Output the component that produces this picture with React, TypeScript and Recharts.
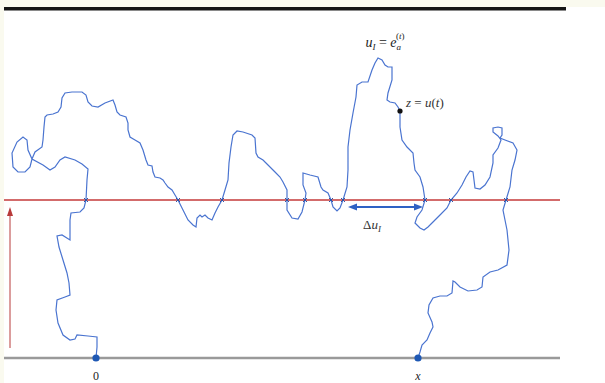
import React from "react";
import {
  ComposedChart,
  Scatter,
  XAxis,
  YAxis,
  ReferenceLine,
} from "recharts";

// path of the walk, from 0 to x (units: horizontal offset from 0, height above the base line)
const walkX = [
  0, 1, 1, -8, -19, -21, -26, -33, -38, -40, -39, -31, -26, -27, -29, -33, -37, -39, -34, -26,
  -26, -25, -16, -12, -10, -9, -8, -14, -21, -31, -36, -41, -46, -53, -64, -68, -69, -73, -79, -84,
  -83, -78, -71, -66, -64, -61, -54, -53, -52, -51, -49, -43, -38, -35, -34, -31, -24, -14, -10, -8,
  -4, 2, 9, 17, 19, 21, 24, 30, 32, 32, 34, 39, 44, 47, 50, 52, 56, 57, 59, 64,
  67, 69, 72, 76, 79, 82, 87, 92, 97, 100, 101, 104, 106, 109, 112, 116, 119, 122, 126, 129,
  132, 133, 135, 137, 141, 147, 156, 159, 160, 162, 167, 172, 179, 184, 187, 191, 191, 191, 196, 202,
  206, 209, 210, 207, 207, 214, 222, 225, 227, 232, 235, 237, 241, 244, 247, 251, 252, 252, 254, 257,
  260, 261, 266, 272, 276, 279, 282, 286, 289, 292, 296, 296, 292, 291, 294, 299, 302, 304, 304, 306,
  311, 317, 318, 319, 324, 327, 329, 326, 321, 319, 324, 328, 332, 337, 344, 351, 355, 361, 366, 370,
  374, 377, 378, 379, 384, 389, 394, 397, 397, 402, 405, 402, 397, 397, 402, 406, 406, 404, 409, 417,
  421, 419, 416, 414, 410, 407, 411, 413, 411, 402, 394, 387, 386, 381, 372, 364, 359, 357, 356, 351,
  344, 337, 333, 332, 336, 337, 334, 331, 326, 324, 322,
];
const walkY = [
  0, 11, 21, 22, 23, 19, 18, 23, 35, 48, 58, 61, 63, 75, 85, 98, 111, 122, 123, 118,
  138, 145, 146, 150, 158, 178, 189, 194, 198, 201, 198, 191, 188, 193, 199, 208, 218, 221, 216, 205,
  191, 186, 186, 191, 199, 206, 211, 218, 231, 241, 243, 244, 246, 251, 260, 265, 266, 266, 263, 256,
  252, 251, 255, 258, 253, 246, 243, 241, 235, 228, 221, 218, 215, 208, 198, 193, 192, 186, 181, 180,
  178, 175, 171, 168, 163, 158, 148, 138, 133, 131, 140, 143, 141, 143, 140, 138, 145, 151, 158, 168,
  178, 195, 211, 223, 227, 226, 223, 220, 205, 201, 198, 193, 186, 181, 176, 168, 158, 148, 140, 139,
  146, 158, 165, 173, 185, 183, 181, 171, 168, 165, 158, 151, 147, 150, 158, 171, 188, 211, 228, 245,
  261, 273, 276, 276, 288, 295, 300, 298, 293, 291, 291, 278, 265, 258, 256, 255, 251, 247, 231, 218,
  211, 205, 195, 188, 181, 171, 158, 148, 141, 135, 130, 128, 131, 136, 143, 150, 158, 165, 173, 181,
  187, 186, 178, 170, 169, 173, 181, 195, 203, 210, 218, 222, 226, 230, 231, 230, 223, 220, 218, 215,
  208, 198, 188, 171, 158, 148, 128, 108, 93, 88, 86, 81, 71, 68, 67, 71, 76, 77, 65, 62,
  62, 60, 53, 45, 36, 31, 25, 18, 13, 6, 0,
];

// where the walk crosses the level line
const crossX = [-10, 82, 126, 191, 209, 235, 247, 329, 355, 410];
const level = 158;

const endX = [0, 322];
const tipX = 304;
const tipY = 247;

const lineStart = -92;
const lineEnd = 464;

const walkData = walkX.map((x, i) => ({ x, y: walkY[i] }));
const crossData = crossX.map((x) => ({ x, y: level }));
const endData = endX.map((x) => ({ x, y: 0 }));

const labels = [
  { x: 289, y: 311, key: "uI" },
  { x: 310, y: 251, key: "z" },
  { x: 276, y: 129, key: "du" },
  { x: 0, y: -22, key: "zero" },
  { x: 322, y: -22, key: "xx" },
];

const serif = '"Liberation Serif", "DejaVu Serif", serif';

const NoMark = () => <g />;

const CrossMark = (p: any) => {
  const { cx, cy } = p;
  const s = 2;
  return (
    <g stroke="#2c55a8" strokeWidth={1}>
      <line x1={cx - s} y1={cy - s} x2={cx + s} y2={cy + s} />
      <line x1={cx - s} y1={cy + s} x2={cx + s} y2={cy - s} />
    </g>
  );
};

const EndDot = (p: any) => <circle cx={p.cx} cy={p.cy} r={3.6} fill="#1e58b4" />;
const TipDot = (p: any) => <circle cx={p.cx} cy={p.cy} r={2.6} fill="#111" />;

const LabelMark = (p: any) => {
  const { cx, cy, payload } = p;
  const st = { fontFamily: serif };
  if (payload.key === "uI") {
    return (
      <text x={cx} y={cy} textAnchor="middle" style={st} fontSize={14} fill="#222">
        <tspan fontStyle="italic">u</tspan>
        <tspan fontStyle="italic" fontSize={9} dy={3}>I</tspan>
        <tspan dy={-3}> = </tspan>
        <tspan fontStyle="italic">e</tspan>
        <tspan fontStyle="italic" fontSize={9} dy={3}>a</tspan>
        <tspan fontSize={9} dx={-5} dy={-11}>(</tspan>
        <tspan fontSize={9} fontStyle="italic">t</tspan>
        <tspan fontSize={9}>)</tspan>
      </text>
    );
  }
  if (payload.key === "z") {
    return (
      <text x={cx} y={cy} textAnchor="start" style={st} fontSize={13} fill="#333">
        <tspan fontStyle="italic">z</tspan>
        <tspan> = </tspan>
        <tspan fontStyle="italic">u</tspan>
        <tspan>(</tspan>
        <tspan fontStyle="italic">t</tspan>
        <tspan>)</tspan>
      </text>
    );
  }
  if (payload.key === "du") {
    return (
      <text x={cx} y={cy} textAnchor="middle" style={st} fontSize={13} fill="#333">
        <tspan>Δ</tspan>
        <tspan fontStyle="italic">u</tspan>
        <tspan fontStyle="italic" fontSize={9} dy={3}>I</tspan>
      </text>
    );
  }
  if (payload.key === "zero") {
    return (
      <text x={cx} y={cy} textAnchor="middle" style={st} fontSize={12} fill="#222">
        0
      </text>
    );
  }
  return (
    <text x={cx} y={cy} textAnchor="middle" style={st} fontSize={12} fill="#222" fontStyle="italic">
      x
    </text>
  );
};

const UpArrow = (p: any) => {
  const { x1, y1, y2 } = p;
  const top = Math.min(y1, y2);
  const bot = Math.max(y1, y2);
  return (
    <g>
      <line x1={x1} y1={bot} x2={x1} y2={top + 4} stroke="#b83a3a" strokeWidth={1} />
      <polygon points={`${x1},${top - 3} ${x1 - 3},${top + 6} ${x1 + 3},${top + 6}`} fill="#b83a3a" />
    </g>
  );
};

const DoubleArrow = (p: any) => {
  const { x1, y1, x2 } = p;
  const l = Math.min(x1, x2);
  const r = Math.max(x1, x2);
  return (
    <g fill="#2f62c4">
      <line x1={l + 5} y1={y1} x2={r - 5} y2={y1} stroke="#2f62c4" strokeWidth={2} />
      <polygon points={`${l},${y1} ${l + 9},${y1 - 3.5} ${l + 9},${y1 + 3.5}`} />
      <polygon points={`${r},${y1} ${r - 9},${y1 - 3.5} ${r - 9},${y1 + 3.5}`} />
    </g>
  );
};

export default function App() {
  return (
    <div
      style={{
        position: "absolute",
        left: 0,
        top: 0,
        width: 605,
        height: 383,
        background: "#fafaef",
        overflow: "hidden",
      }}
    >
      <div
        style={{
          position: "absolute",
          left: 4,
          top: 7,
          right: 0,
          bottom: 0,
          background: "#ffffff",
        }}
      />
      <div
        style={{
          position: "absolute",
          left: 4,
          top: 7,
          width: 562,
          height: 3,
          background: "#151515",
          borderBottom: "1px solid #8a8a8a",
        }}
      />
      <div style={{ position: "absolute", left: 0, top: 0 }}>
        <ComposedChart
          width={605}
          height={383}
          margin={{ top: 0, right: 0, bottom: 0, left: 0 }}
        >
          <XAxis type="number" dataKey="x" domain={[-96, 509]} hide />
          <YAxis type="number" dataKey="y" domain={[-25, 358]} hide />
          <ReferenceLine
            segment={[{ x: lineStart, y: 0 }, { x: lineEnd, y: 0 }]}
            stroke="#9a9a9a"
            strokeWidth={2.5}
          />
          <ReferenceLine
            segment={[{ x: lineStart, y: level }, { x: lineEnd, y: level }]}
            stroke="#c43a3a"
            strokeWidth={1.3}
          />
          <ReferenceLine
            segment={[{ x: -86, y: 10 }, { x: -86, y: 148 }]}
            shape={UpArrow}
          />
          <ReferenceLine
            segment={[{ x: 252, y: 151 }, { x: 327, y: 151 }]}
            shape={DoubleArrow}
          />
          <Scatter
            data={walkData}
            dataKey="y"
            line={{ stroke: "#4a74d0", strokeWidth: 1.2 }}
            lineType="joint"
            shape={NoMark}
            isAnimationActive={false}
          />
          <Scatter data={crossData} dataKey="y" shape={CrossMark} isAnimationActive={false} />
          <Scatter data={endData} dataKey="y" shape={EndDot} isAnimationActive={false} />
          <Scatter data={[{ x: tipX, y: tipY }]} dataKey="y" shape={TipDot} isAnimationActive={false} />
          <Scatter data={labels} dataKey="y" shape={LabelMark} isAnimationActive={false} />
        </ComposedChart>
      </div>
    </div>
  );
}
